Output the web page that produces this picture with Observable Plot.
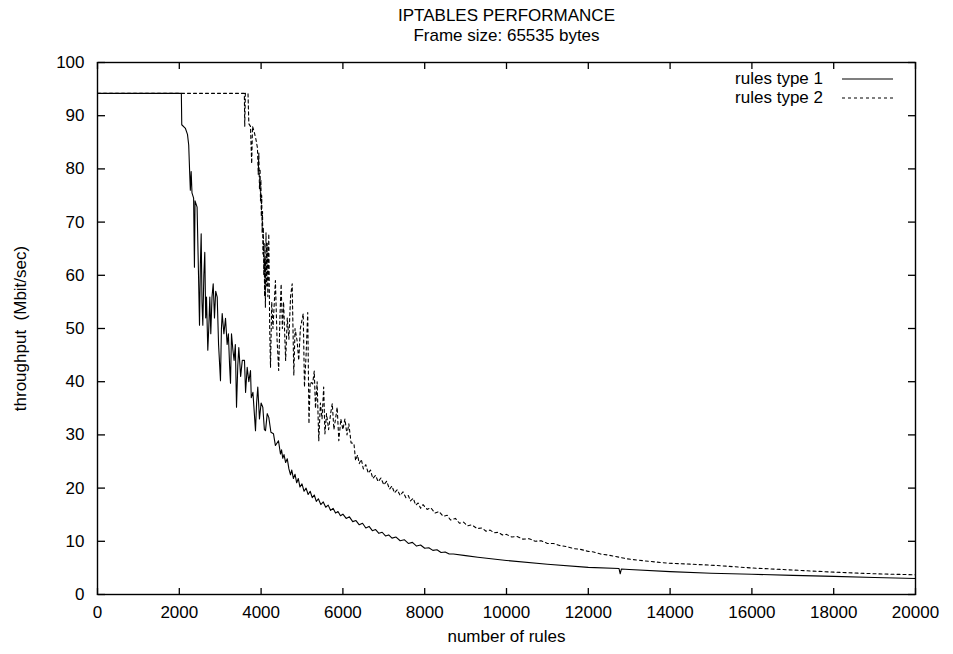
<!DOCTYPE html>
<html><head><meta charset="utf-8">
<script src="https://cdn.jsdelivr.net/npm/d3@7"></script>
<script src="https://cdn.jsdelivr.net/npm/@observablehq/plot@0.6"></script>
<style>
body{margin:0;background:#fff;}
#wrap{position:relative;width:953px;height:654px;font-family:"Liberation Sans",Arial,Helvetica,sans-serif;color:#000;}
.lt{position:absolute;right:130px;height:20px;line-height:20px;font-size:17px;white-space:nowrap;}
</style></head><body><div id="wrap"></div>
<script>
const titleLines = ["IPTABLES PERFORMANCE", "Frame size: 65535 bytes"];
const xLabel = "number of rules";
const yLabel = "throughput\u00a0 (Mbit/sec)";
const seriesNames = ["rules type 1", "rules type 2"];
const xTicks = [0,2000,4000,6000,8000,10000,12000,14000,16000,18000,20000];
const yTicks = [0,10,20,30,40,50,60,70,80,90,100];

// rules type 1 (solid)
const s1x = [0,2050,2060,2150,2200,2230,2255,2270,2290,2310,2350,2370,2385,2435,2470,2494,2515,2535,2555,2575,2600,2623,2645,2665,2697,2720,2746,2770,2800,2829,2860,2890,2927,2960,3007,3030,3049,3090,3130,3170,3200,3230,3252,3276,3310,3340,3370,3399,3430,3455,3500,3540,3594,3620,3660,3700,3741,3760,3800,3863,3890,3919,3960,4000,4042,4080,4108,4150,4188,4240,4303,4350,4425,4474,4500,4530,4560,4600,4640,4680,4719,4750,4790,4830,4870,4910,4950,5000,5050,5100,5150,5200,5250,5300,5350,5400,5460,5520,5580,5640,5700,5760,5820,5880,5940,6000,6080,6160,6240,6320,6400,6480,6560,6640,6720,6800,6880,6960,7040,7120,7200,7300,7400,7500,7600,7700,7800,7900,8000,8100,8200,8300,8400,8500,8600,8700,9000,9300,10000,11000,12000,12750,12780,12810,13000,14000,15000,16000,17000,18000,19000,20000];
const s1y = [94.2,94.2,88.3,87.6,86.5,84.5,79,76,79.5,75.5,74.5,61.5,74,72.8,60,50.6,62,67.8,55,50.6,60,64.3,52,55.9,45.9,50,55.9,49,56,58.4,52,57,55.9,47,40.2,50,52.8,49,51.9,47,49,43,39.7,49,46,44,47,35.2,43,46.4,41,44,44,38,42.7,40,42.1,37,38,30.8,36,39,33,36,35.2,31,30.8,34,33.3,30.5,30.2,28,28.9,26.4,27.2,25.6,26.3,24.8,25.5,23.6,22.5,23.4,21.8,22.6,21,21.8,20.2,20.8,19.4,20,18.8,19.4,18.2,18.7,17.5,18,16.9,17.4,16.4,16.8,15.8,16.2,15.3,15.6,14.8,15.1,14.3,14.6,13.7,13.9,13.1,13.4,12.5,12.8,12,12.2,11.5,11.7,11,11.2,10.6,10.8,10.1,10.3,9.6,9.8,9.1,9.3,8.7,8.8,8.3,8.4,7.9,8.0,7.6,7.6,7.3,7.0,6.4,5.7,5.1,4.9,3.9,4.8,4.7,4.3,4.0,3.8,3.6,3.4,3.2,3.0];

// rules type 2 (dashed)
const s2x = [0,3590,3600,3615,3680,3700,3740,3770,3790,3830,3870,3910,3930,3945,3960,3975,3985,3995,4005,4015,4025,4035,4045,4055,4065,4075,4085,4095,4105,4120,4135,4150,4165,4188,4210,4230,4260,4290,4350,4390,4430,4460,4490,4520,4550,4600,4640,4680,4720,4760,4800,4830,4880,4920,4960,5030,5060,5100,5140,5170,5200,5260,5300,5330,5370,5410,5450,5490,5530,5560,5600,5650,5700,5740,5780,5820,5860,5900,5950,6000,6050,6100,6145,6200,6270,6310,6360,6400,6450,6500,6560,6620,6675,6730,6800,6860,6930,7000,7070,7140,7200,7260,7330,7400,7470,7540,7600,7650,7720,7780,7840,7900,7960,8060,8150,8250,8350,8450,8550,8630,8750,8850,8950,9050,9150,9280,9400,9500,9600,9700,9800,9900,10000,10130,10260,10400,10550,10700,10850,11000,11150,11300,11480,11650,11800,12000,12130,12300,12500,12950,13400,13930,14500,15150,15970,17000,18000,19000,20000];
const s2y = [94.2,94.2,88,94.2,94.2,88.5,88,81,88,87,85.7,84,79,83,76.3,80,74,78,71,75,68,72,64,69,60,66,56,63,54,68,58,66,56,67.8,50,42.7,55,50,59,48,42.1,52,58.4,50,55,44,52,48,56,58.4,41.2,50,47.7,44,50,52.8,39,45,53,32.1,40,39.6,42,35,40,28.9,36,33,39,30.2,34,31,34,35.9,31,33,35.2,28.9,33,31,33,30,32.1,28.5,28.4,25.2,26.2,24.6,25.4,23.6,24.4,22.8,23.4,21.8,22.4,21.2,21.9,20.6,21.3,19.8,20.4,19.1,19.7,18.6,19.3,18.2,18.6,17.6,18.1,16.8,17.2,16.2,16.9,16,16.3,15.3,15.6,14.7,14.9,14.0,14.3,13.4,13.6,12.9,13.1,12.4,12.5,11.9,12.1,11.6,11.7,11.2,11.3,10.8,10.9,10.4,10.5,10.0,10.1,9.6,9.6,9.2,9.0,8.6,8.5,8.1,8.0,7.6,7.4,6.7,6.3,5.9,5.7,5.45,5.0,4.6,4.2,3.9,3.7];

const W = 953, H = 654, mL = 97, mR = 38, mT = 62, mB = 60;
const iw = W - mL - mR, ih = H - mT - mB;
const d1 = s1x.map((x, i) => ({x, y: s1y[i]}));
const d2 = s2x.map((x, i) => ({x, y: s2y[i]}));
const font = '"Liberation Sans", Arial, Helvetica, sans-serif';

const chart = Plot.plot({
  width: W, height: H,
  marginLeft: mL, marginRight: mR, marginTop: mT, marginBottom: mB,
  style: {fontFamily: font, fontSize: "17px", color: "black", background: "white", overflow: "visible"},
  x: {domain: [0, 20000], label: null},
  y: {domain: [0, 100], label: null},
  marks: [
    Plot.line(d1, {x: "x", y: "y", stroke: "black", strokeWidth: 1.1}),
    Plot.line(d2, {x: "x", y: "y", stroke: "black", strokeWidth: 1.1, strokeDasharray: "3,3"}),
    Plot.axisX(xTicks, {anchor: "bottom", tickSize: 0, tickPadding: 11, tickFormat: "d", label: null}),
    Plot.axisX(xTicks, {anchor: "top", tickSize: 7, dy: ih, fill: "none", label: null, strokeWidth: 1.3}),
    Plot.axisX(xTicks, {anchor: "bottom", tickSize: 7, dy: -ih, fill: "none", label: null, strokeWidth: 1.3}),
    Plot.axisY(yTicks, {anchor: "left", tickSize: 0, tickPadding: 13, tickFormat: "d", label: null}),
    Plot.axisY(yTicks, {anchor: "right", tickSize: 7, dx: -iw, fill: "none", label: null, strokeWidth: 1.3}),
    Plot.axisY(yTicks, {anchor: "left", tickSize: 7, dx: iw, fill: "none", label: null, strokeWidth: 1.3}),
    Plot.frame({stroke: "black", strokeWidth: 1.4}),
    Plot.text([titleLines[0]], {text: d => d, frameAnchor: "top", lineAnchor: "middle", dy: -47, fontSize: 17}),
    Plot.text([titleLines[1]], {text: d => d, frameAnchor: "top", lineAnchor: "middle", dy: -27, fontSize: 17}),
    Plot.text([xLabel], {text: d => d, frameAnchor: "bottom", lineAnchor: "middle", dy: 42}),
    Plot.text([yLabel], {text: d => d, frameAnchor: "left", textAnchor: "middle", lineAnchor: "middle", dx: -77, rotate: -90})
  ]
});
const wrap = document.getElementById("wrap");
wrap.appendChild(chart);

// legend overlay
const leg = document.createElement("div");
leg.style.cssText = "position:absolute;left:0;top:0;width:953px;height:654px;pointer-events:none;";
leg.innerHTML =
  `<div class="lt" style="top:69px">${seriesNames[0]}</div>` +
  `<div class="lt" style="top:88px">${seriesNames[1]}</div>` +
  `<svg width="953" height="654" style="position:absolute;left:0;top:0">` +
  `<line x1="842" x2="893" y1="79" y2="79" stroke="black" stroke-width="1.1"/>` +
  `<line x1="842" x2="893" y1="98" y2="98" stroke="black" stroke-width="1.1" stroke-dasharray="3,3"/>` +
  `</svg>`;
wrap.appendChild(leg);
</script></body></html>
